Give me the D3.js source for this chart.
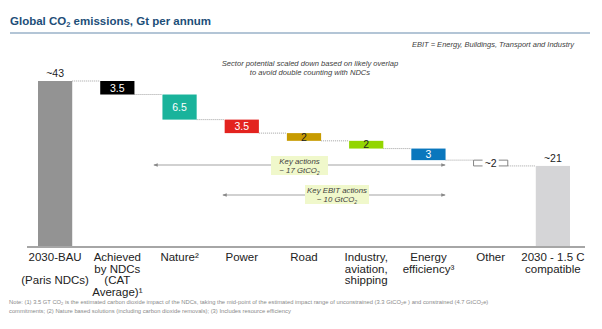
<!DOCTYPE html>
<html><head><meta charset="utf-8">
<script src="https://cdn.jsdelivr.net/npm/d3@7"></script>
<style>
body{margin:0;background:#fff;}
svg{display:block;font-family:"Liberation Sans",Arial,sans-serif;}
</style></head>
<body><svg id="c" width="602" height="329"></svg>
<script>
const categories = ["2030-BAU","Achieved by NDCs","Nature","Power","Road","Industry, aviation, shipping","Energy efficiency","Other","2030 - 1.5 C compatible"];
const catLabels = [["2030-BAU","","(Paris NDCs)"],["Achieved","by NDCs","(CAT","Average)¹"],["Nature²"],["Power"],["Road"],["Industry,","aviation,","shipping"],["Energy","efficiency³"],["Other"],["2030 - 1.5 C","compatible"]];
const values = [43, -3.5, -6.5, -3.5, -2, -2, -3, -1.5, 21];
const valueLabels = ["~43","3.5","6.5","3.5","2","2","3","~2","~21"];
const types = ["total","delta","delta","delta","delta","delta","delta","other","total"];
const colors = ["#939393","#000000","#1ab39b","#e3231f","#c79b00","#93d500","#0a77bd","none","#d5d5d7"];
const labelColors = ["#222","#fff","#fff","#fff","#222","#222","#fff","#222","#222"];

const svg = d3.select("#c");
const x = d3.scaleBand().domain(categories).range([24,584]).paddingInner(0.45).paddingOuter(0.225);
const y = d3.scaleLinear().domain([0,43]).range([247,81]);

let cum = 0;
const bars = categories.map((c,i)=>{
  let y0,y1;
  if(types[i]==="total"){ y0=0; y1=values[i]; cum=values[i]; }
  else { y1=cum; y0=cum+values[i]; cum=y0; }
  return {c,i,y0,y1};
});

svg.append("text").attr("x",10).attr("y",25).attr("font-size",11.5).attr("font-weight","bold").attr("fill","#1d4e78")
  .html('Global CO<tspan font-size="7.5" dy="2">2</tspan><tspan dy="-2"> emissions, Gt per annum</tspan>');
svg.append("line").attr("x1",10).attr("x2",590).attr("y1",33).attr("y2",33).attr("stroke","#b3c5d6").attr("stroke-width",2);

svg.append("text").attr("x",574).attr("y",47).attr("text-anchor","end").attr("font-size",7.5).attr("font-style","italic").attr("fill","#404040")
  .text("EBIT = Energy, Buildings, Transport and Industry");
const st = svg.append("text").attr("x",310).attr("text-anchor","middle").attr("font-size",7.6).attr("font-style","italic").attr("fill","#404040");
st.append("tspan").attr("x",310).attr("y",66).text("Sector potential scaled down based on likely overlap");
st.append("tspan").attr("x",310).attr("y",75).text("to avoid double counting with NDCs");

for(let i=0;i<bars.length-1;i++){
  const b=bars[i], n=bars[i+1];
  const lvl = types[i]==="total" ? b.y1 : b.y0;
  svg.append("line").attr("x1",x(b.c)+x.bandwidth()).attr("x2",x(n.c))
    .attr("y1",y(lvl)).attr("y2",y(lvl)).attr("stroke","#8a8a8a").attr("stroke-width",0.8).attr("stroke-dasharray","1,1");
}

bars.forEach(b=>{
  const bx=x(b.c), bw=x.bandwidth();
  const top=y(Math.max(b.y0,b.y1)), bot=y(Math.min(b.y0,b.y1));
  if(types[b.i]==="other"){
    const mid=(top+bot)/2;
    const g=svg.append("g").attr("fill","none").attr("stroke","#777").attr("stroke-width",0.9);
    g.append("path").attr("d",`M${bx+9},${top}H${bx}V${bot}H${bx+9}`);
    g.append("path").attr("d",`M${bx+bw-9},${top}H${bx+bw}V${bot}H${bx+bw-9}`);
    svg.append("text").attr("x",bx+bw/2).attr("y",mid+4).attr("text-anchor","middle").attr("font-size",10.5).attr("fill",labelColors[b.i]).text(valueLabels[b.i]);
    return;
  }
  svg.append("rect").attr("x",bx).attr("y",top).attr("width",bw).attr("height",bot-top).attr("fill",colors[b.i]);
  if(types[b.i]==="total"){
    svg.append("text").attr("x",bx+bw/2).attr("y",top-4).attr("text-anchor","middle").attr("font-size",10.5).attr("fill",labelColors[b.i]).text(valueLabels[b.i]);
  } else {
    svg.append("text").attr("x",bx+bw/2).attr("y",(top+bot)/2+3.8).attr("text-anchor","middle").attr("font-size",10.5).attr("fill",labelColors[b.i]).text(valueLabels[b.i]);
  }
});

svg.append("line").attr("x1",27).attr("x2",585).attr("y1",247).attr("y2",247).attr("stroke","#a6a6a6").attr("stroke-width",2);
catLabels.forEach((lines,i)=>{
  const cx=x(categories[i])+x.bandwidth()/2;
  const t=svg.append("text").attr("text-anchor","middle").attr("font-size",11.5).attr("fill","#222");
  lines.forEach((l,j)=>t.append("tspan").attr("x",cx).attr("y",261+j*11.7).text(l));
});

const defs=svg.append("defs");
defs.append("marker").attr("id","ah").attr("viewBox","0 0 6 6").attr("refX",5).attr("refY",3).attr("markerWidth",5).attr("markerHeight",5).attr("orient","auto-start-reverse")
  .append("path").attr("d","M0,0.8L6,3L0,5.2Z").attr("fill","#888");
function arrow(x1,x2,yy,bx,bw,by,bh,l1,l2){
  svg.append("line").attr("x1",x1).attr("x2",x2).attr("y1",yy).attr("y2",yy).attr("stroke","#999").attr("stroke-width",0.9)
    .attr("marker-start","url(#ah)").attr("marker-end","url(#ah)");
  svg.append("rect").attr("x",bx).attr("y",by).attr("width",bw).attr("height",bh).attr("fill","#f0f8cb");
  const t=svg.append("text").attr("text-anchor","middle").attr("font-size",7.8).attr("font-style","italic").attr("fill","#404040");
  t.append("tspan").attr("x",bx+bw/2).attr("y",by+8).text(l1);
  t.append("tspan").attr("x",bx+bw/2).attr("y",by+17).html(l2);
}
arrow(154,445,165,271,57,156,19,"Key actions",'~ 17 GtCO<tspan font-size="5" dy="1.5">2</tspan>');
arrow(223,445,195,305,64,185,19,"Key EBIT actions",'~ 10 GtCO<tspan font-size="5" dy="1.5">2</tspan>');

const fn=svg.append("text").attr("font-size",5.8).attr("fill","#8a8a8a");
fn.append("tspan").attr("x",9).attr("y",304).html('Note: (1) 3.5 GT CO<tspan font-size="4" dy="1">2</tspan><tspan dy="-1"> is the estimated carbon dioxide impact of the NDCs, taking the mid-point of the estimated impact range of unconstrained (3.3 GtCO</tspan><tspan font-size="4" dy="1">2</tspan><tspan dy="-1">e ) and constrained (4.7 GtCO</tspan><tspan font-size="4" dy="1">2</tspan><tspan dy="-1">e)</tspan>');
fn.append("tspan").attr("x",9).attr("y",312.5).text("commitments; (2) Nature based solutions (including carbon dioxide removals); (3) Includes resource efficiency");
</script></body></html>
